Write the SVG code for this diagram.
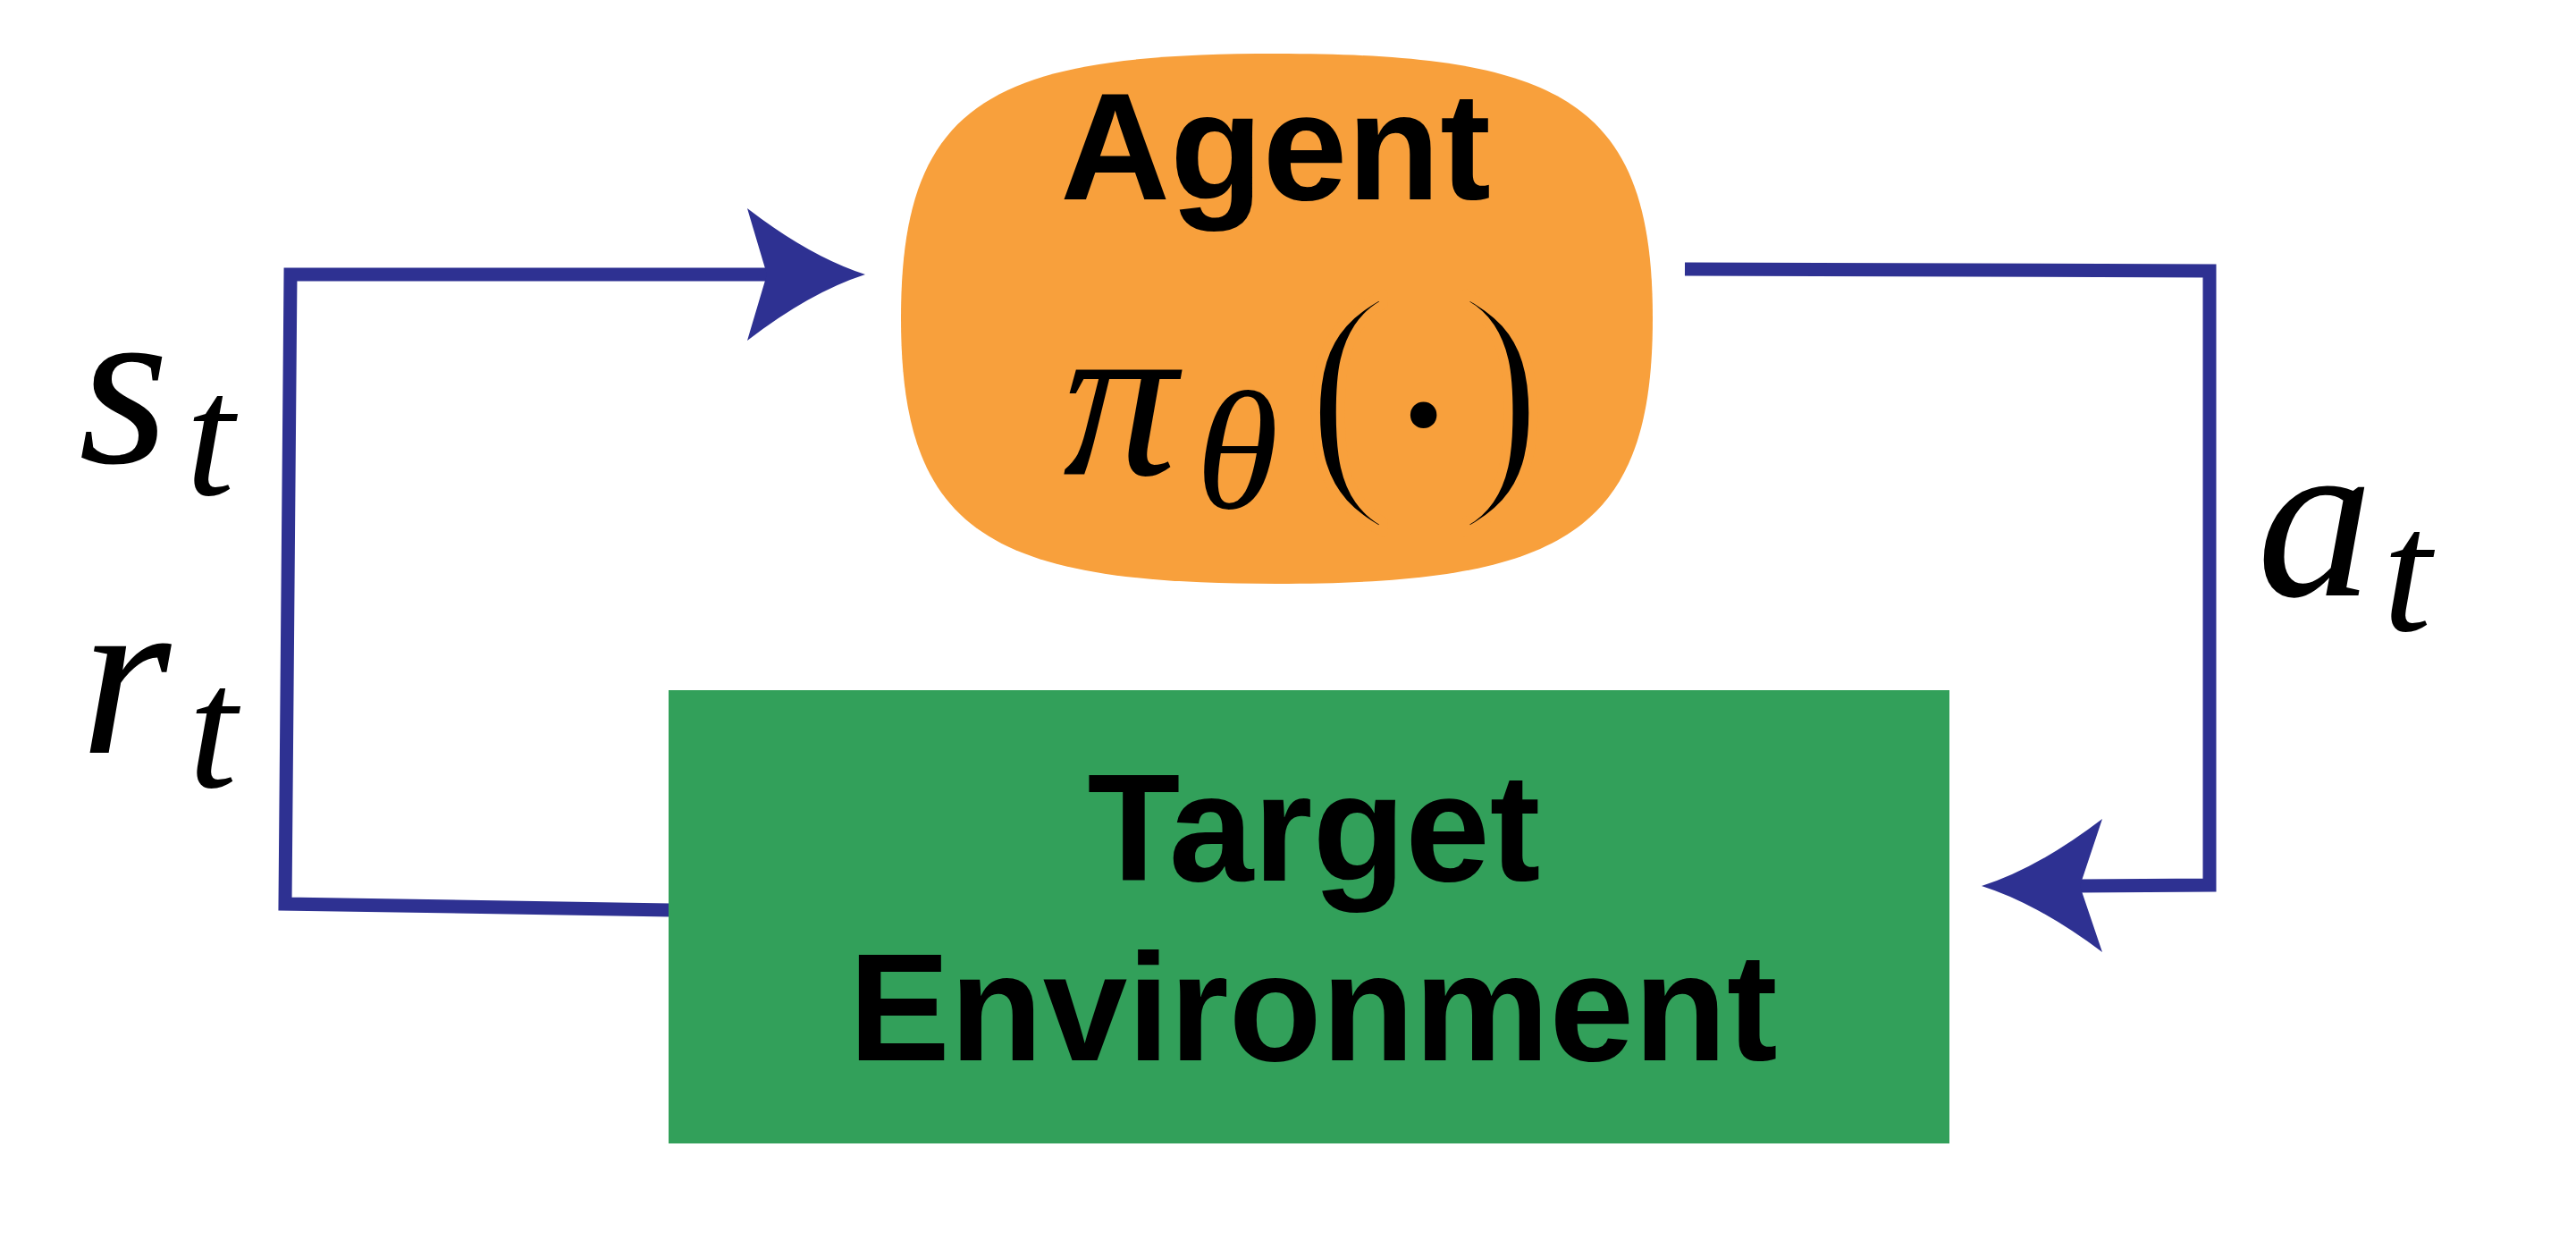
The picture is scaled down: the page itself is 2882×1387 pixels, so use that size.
<svg xmlns="http://www.w3.org/2000/svg" width="2882" height="1387" viewBox="0 0 2882 1387">
<style>
.bg{fill:#ffffff}
.wire{fill:none;stroke:#2E3192;stroke-width:15;stroke-linejoin:miter}
.head{fill:#2E3192;stroke:none}
.agent{fill:#F8A03C}
.env{fill:#32A05A}
.lbl{font-family:"Liberation Sans",Arial,sans-serif;font-weight:bold;font-size:170px;fill:#000;text-anchor:middle}
.math{font-family:"Liberation Serif","DejaVu Serif",serif;font-style:italic;fill:#000}
.up{font-family:"Liberation Serif","DejaVu Serif",serif;font-style:normal;fill:#000}
.paren{font-family:"Liberation Serif","DejaVu Serif",serif;font-style:normal;font-size:295px;fill:#000;stroke:#F8A03C;stroke-width:10;stroke-linejoin:round}
</style>
<rect class="bg" x="0" y="0" width="2882" height="1387"/>
<g id="connectors">
  <path class="wire" d="M750,1018 L319,1011 L325,307 L862,307"/>
  <path class="head" d="M968,307 Q906,287 836,233 L858,307 L836,381 Q906,327 968,307 Z"/>
  <path class="wire" d="M1885,301 L2472,303 L2472,990 L2325,991"/>
  <path class="head" d="M2217,991 Q2280,971 2352,916 L2327,991 L2352,1065 Q2280,1011 2217,991 Z"/>
</g>
<g id="agent">
  <path class="agent" d="M1008,356 C1008,114 1108,60 1428,60 C1748,60 1849,114 1849,356 C1849,596 1748,653 1428,653 C1108,653 1008,596 1008,356 Z"/>
  <text class="lbl" x="1427" y="223">Agent</text>
  <text class="math"><tspan x="1189" y="531" font-size="255">π</tspan><tspan x="1338" y="568" font-size="188">θ</tspan></text>
  <text class="paren" x="1459" y="533">(</text>
  <text class="up" x="1551" y="547" font-size="250">·</text>
  <text class="paren" x="1630" y="533">)</text>
</g>
<g id="environment">
  <rect class="env" x="748" y="772" width="1433" height="507"/>
  <text class="lbl" x="1470" y="985">Target</text>
  <text class="lbl" x="1469" y="1186">Environment</text>
</g>
<g id="labels">
  <text class="math"><tspan x="88" y="517" font-size="260">s</tspan><tspan x="208" y="553" font-size="195">t</tspan></text>
  <text class="math"><tspan x="90" y="842" font-size="260">r</tspan><tspan x="211" y="880" font-size="195">t</tspan></text>
  <text class="math"><tspan x="2525" y="666" font-size="260">a</tspan><tspan x="2666" y="705" font-size="195">t</tspan></text>
</g>
</svg>
